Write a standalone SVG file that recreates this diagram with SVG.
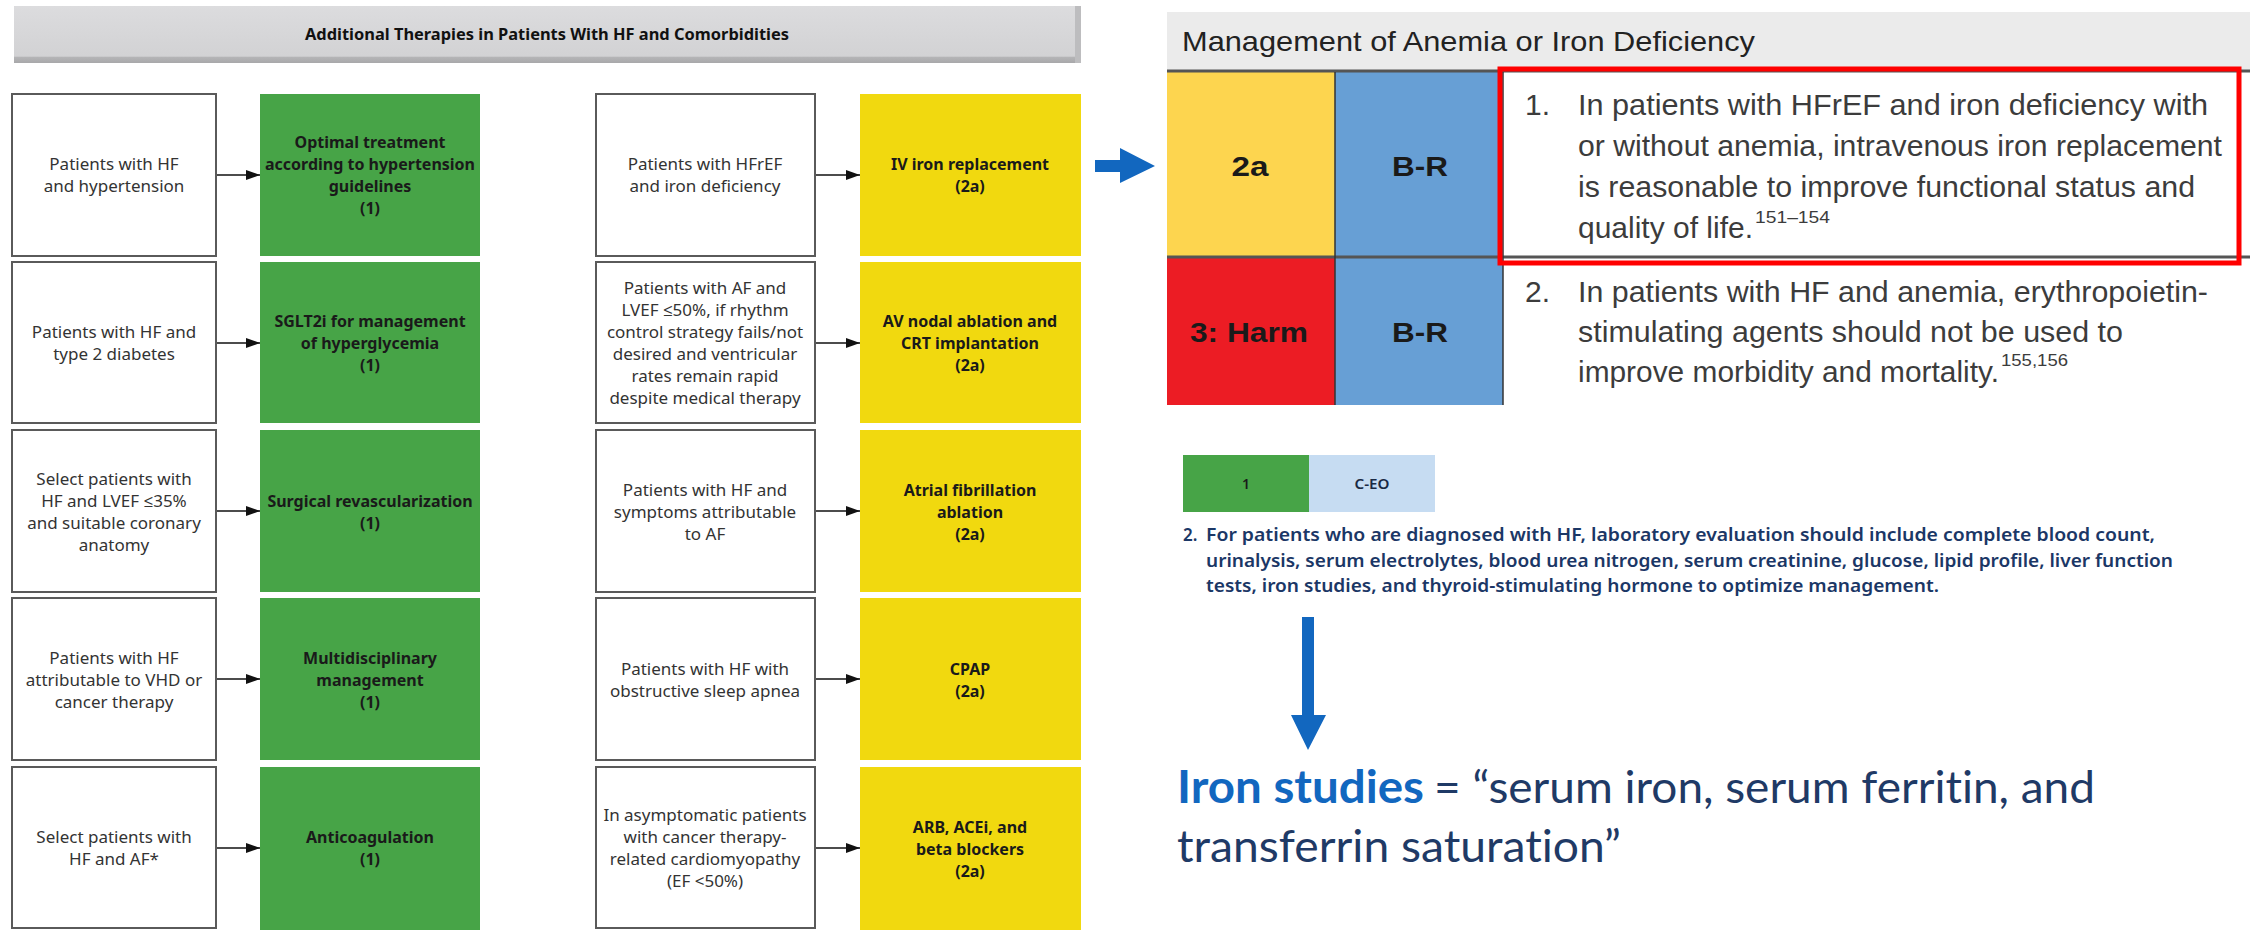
<svg xmlns="http://www.w3.org/2000/svg" width="2250" height="930" viewBox="0 0 2250 930">
<defs>
<style>
.wbox{fill:#ffffff;stroke:#5a5a5a;stroke-width:2}
.gbox{fill:#47a447}
.ybox{fill:#f1d90f}
.wt{font-family:"Noto Sans","Open Sans",sans-serif;font-size:17px;fill:#333;text-anchor:middle}
.bt{font-family:"Noto Sans","Open Sans",sans-serif;font-size:16px;font-weight:bold;fill:#1a1a1a;text-anchor:middle}
.conn{stroke:#111;stroke-width:1.6;fill:none;marker-end:url(#ah)}
.tb{font-family:"Liberation Sans",Arial,sans-serif;font-size:30px;fill:#3c3c3c}
.sup{font-family:"Liberation Sans",Arial,sans-serif;font-size:17px;fill:#3c3c3c}
.lab{font-family:"Liberation Sans",Arial,sans-serif;font-size:27px;font-weight:bold;fill:#1a1a1a;text-anchor:middle}
.para{font-family:"Noto Sans","Open Sans",sans-serif;font-size:17px;font-weight:600;fill:#1b3766}
.iron{font-family:Lato,"Noto Sans",sans-serif;font-size:45px;font-variant-ligatures:none;fill:#1f3a66}
.blue{fill:#1267bf}
</style>
<marker id="ah" viewBox="0 0 14 10" refX="14" refY="5" markerWidth="14" markerHeight="10" markerUnits="userSpaceOnUse" orient="auto"><path d="M0,0 L14,5 L0,10 z" fill="#111"/></marker>
<linearGradient id="tbar" x1="0" y1="0" x2="0" y2="1"><stop offset="0" stop-color="#dcdcde"/><stop offset="0.88" stop-color="#d2d2d4"/><stop offset="0.9" stop-color="#b4b4b6"/><stop offset="1" stop-color="#a8a8aa"/></linearGradient>
</defs>
<rect width="2250" height="930" fill="#ffffff"/>

<g id="title">
<rect x="14" y="6" width="1067" height="57" fill="url(#tbar)"/>
<rect x="1075" y="6" width="6" height="57" fill="#bdbdbf"/>
<text x="547" y="40" font-family="'Noto Sans',sans-serif" font-size="16" font-weight="bold" fill="#111" text-anchor="middle" textLength="484" lengthAdjust="spacingAndGlyphs">Additional Therapies in Patients With HF and Comorbidities</text>
</g>

<g id="connectors">
<path class="conn" d="M216,175 H260"/>
<path class="conn" d="M216,343 H260"/>
<path class="conn" d="M216,511 H260"/>
<path class="conn" d="M216,679 H260"/>
<path class="conn" d="M216,848 H260"/>
<path class="conn" d="M815,175 H860"/>
<path class="conn" d="M815,343 H860"/>
<path class="conn" d="M815,511 H860"/>
<path class="conn" d="M815,679 H860"/>
<path class="conn" d="M815,848 H860"/>
<polygon class="blue" points="1095,160 1120,160 1120,148 1155,166 1120,183 1120,172 1095,172"/>
<polygon class="blue" points="1302,617 1314,617 1314,715 1326,715 1308,750 1291,715 1302,715"/>
</g>

<g id="n-htn"><rect class="wbox" x="12" y="94" width="204" height="162"/>
<text class="wt" x="114" y="170">Patients with HF</text><text class="wt" x="114" y="192">and hypertension</text></g>
<g id="t-htn"><rect class="gbox" x="260" y="94" width="220" height="162"/>
<text class="bt" x="370" y="148">Optimal treatment</text><text class="bt" x="370" y="170">according to hypertension</text><text class="bt" x="370" y="192">guidelines</text><text class="bt" x="370" y="214">(1)</text></g>

<g id="n-dm"><rect class="wbox" x="12" y="262" width="204" height="161"/>
<text class="wt" x="114" y="338">Patients with HF and</text><text class="wt" x="114" y="360">type 2 diabetes</text></g>
<g id="t-dm"><rect class="gbox" x="260" y="262" width="220" height="161"/>
<text class="bt" x="370" y="327">SGLT2i for management</text><text class="bt" x="370" y="349">of hyperglycemia</text><text class="bt" x="370" y="371">(1)</text></g>

<g id="n-cad"><rect class="wbox" x="12" y="430" width="204" height="162"/>
<text class="wt" x="114" y="485">Select patients with</text><text class="wt" x="114" y="507">HF and LVEF ≤35%</text><text class="wt" x="114" y="529">and suitable coronary</text><text class="wt" x="114" y="551">anatomy</text></g>
<g id="t-cad"><rect class="gbox" x="260" y="430" width="220" height="162"/>
<text class="bt" x="370" y="507">Surgical revascularization</text><text class="bt" x="370" y="529">(1)</text></g>

<g id="n-vhd"><rect class="wbox" x="12" y="598" width="204" height="162"/>
<text class="wt" x="114" y="664">Patients with HF</text><text class="wt" x="114" y="686">attributable to VHD or</text><text class="wt" x="114" y="708">cancer therapy</text></g>
<g id="t-vhd"><rect class="gbox" x="260" y="598" width="220" height="162"/>
<text class="bt" x="370" y="664">Multidisciplinary</text><text class="bt" x="370" y="686">management</text><text class="bt" x="370" y="708">(1)</text></g>

<g id="n-af"><rect class="wbox" x="12" y="767" width="204" height="161"/>
<text class="wt" x="114" y="843">Select patients with</text><text class="wt" x="114" y="865">HF and AF*</text></g>
<g id="t-af"><rect class="gbox" x="260" y="767" width="220" height="163"/>
<text class="bt" x="370" y="843">Anticoagulation</text><text class="bt" x="370" y="865">(1)</text></g>

<g id="n-iron"><rect class="wbox" x="596" y="94" width="219" height="162"/>
<text class="wt" x="705" y="170">Patients with HFrEF</text><text class="wt" x="705" y="192">and iron deficiency</text></g>
<g id="t-iron"><rect class="ybox" x="860" y="94" width="221" height="162"/>
<text class="bt" x="970" y="170">IV iron replacement</text><text class="bt" x="970" y="192">(2a)</text></g>

<g id="n-avn"><rect class="wbox" x="596" y="262" width="219" height="161"/>
<text class="wt" x="705" y="294">Patients with AF and</text><text class="wt" x="705" y="316">LVEF ≤50%, if rhythm</text><text class="wt" x="705" y="338">control strategy fails/not</text><text class="wt" x="705" y="360">desired and ventricular</text><text class="wt" x="705" y="382">rates remain rapid</text><text class="wt" x="705" y="404">despite medical therapy</text></g>
<g id="t-avn"><rect class="ybox" x="860" y="262" width="221" height="161"/>
<text class="bt" x="970" y="327">AV nodal ablation and</text><text class="bt" x="970" y="349">CRT implantation</text><text class="bt" x="970" y="371">(2a)</text></g>

<g id="n-afab"><rect class="wbox" x="596" y="430" width="219" height="162"/>
<text class="wt" x="705" y="496">Patients with HF and</text><text class="wt" x="705" y="518">symptoms attributable</text><text class="wt" x="705" y="540">to AF</text></g>
<g id="t-afab"><rect class="ybox" x="860" y="430" width="221" height="162"/>
<text class="bt" x="970" y="496">Atrial fibrillation</text><text class="bt" x="970" y="518">ablation</text><text class="bt" x="970" y="540">(2a)</text></g>

<g id="n-osa"><rect class="wbox" x="596" y="598" width="219" height="162"/>
<text class="wt" x="705" y="675">Patients with HF with</text><text class="wt" x="705" y="697">obstructive sleep apnea</text></g>
<g id="t-osa"><rect class="ybox" x="860" y="598" width="221" height="162"/>
<text class="bt" x="970" y="675">CPAP</text><text class="bt" x="970" y="697">(2a)</text></g>

<g id="n-ctrcd"><rect class="wbox" x="596" y="767" width="219" height="161"/>
<text class="wt" x="705" y="821">In asymptomatic patients</text><text class="wt" x="705" y="843">with cancer therapy-</text><text class="wt" x="705" y="865">related cardiomyopathy</text><text class="wt" x="705" y="887">(EF &lt;50%)</text></g>
<g id="t-ctrcd"><rect class="ybox" x="860" y="767" width="221" height="163"/>
<text class="bt" x="970" y="833">ARB, ACEi, and</text><text class="bt" x="970" y="855">beta blockers</text><text class="bt" x="970" y="877">(2a)</text></g>

<g id="anemia-table">
<rect x="1167" y="12" width="1083" height="59" fill="#ebebeb"/>
<text x="1182" y="51" font-family="'Liberation Sans',Arial,sans-serif" font-size="28" fill="#222" textLength="573" lengthAdjust="spacingAndGlyphs">Management of Anemia or Iron Deficiency</text>
<rect x="1167" y="72" width="168" height="186" fill="#fdd54f"/>
<rect x="1335" y="72" width="168" height="186" fill="#679fd5"/>
<rect x="1167" y="258" width="168" height="147" fill="#ec1c24"/>
<rect x="1335" y="258" width="168" height="147" fill="#679fd5"/>
<line x1="1167" y1="71" x2="2250" y2="71" stroke="#555" stroke-width="3"/>
<line x1="1167" y1="257" x2="2250" y2="257" stroke="#555" stroke-width="3"/>
<line x1="1335" y1="72" x2="1335" y2="405" stroke="#333" stroke-width="1.5"/>
<line x1="1503" y1="72" x2="1503" y2="405" stroke="#333" stroke-width="1.5"/>
<text class="lab" x="1250" y="176" textLength="37" lengthAdjust="spacingAndGlyphs">2a</text>
<text class="lab" x="1420" y="176" textLength="56" lengthAdjust="spacingAndGlyphs">B-R</text>
<text class="lab" x="1249" y="342" textLength="118" lengthAdjust="spacingAndGlyphs">3: Harm</text>
<text class="lab" x="1420" y="342" textLength="56" lengthAdjust="spacingAndGlyphs">B-R</text>
<text class="tb" x="1525" y="115">1.</text>
<text class="tb" x="1578" y="115" textLength="630" lengthAdjust="spacingAndGlyphs">In patients with HFrEF and iron deficiency with</text>
<text class="tb" x="1578" y="156" textLength="644" lengthAdjust="spacingAndGlyphs">or without anemia, intravenous iron replacement</text>
<text class="tb" x="1578" y="197" textLength="617" lengthAdjust="spacingAndGlyphs">is reasonable to improve functional status and</text>
<text class="tb" x="1578" y="238" textLength="175" lengthAdjust="spacingAndGlyphs">quality of life.</text>
<text class="sup" x="1755" y="223" textLength="75" lengthAdjust="spacingAndGlyphs">151–154</text>
<text class="tb" x="1525" y="302">2.</text>
<text class="tb" x="1578" y="302" textLength="630" lengthAdjust="spacingAndGlyphs">In patients with HF and anemia, erythropoietin-</text>
<text class="tb" x="1578" y="342" textLength="545" lengthAdjust="spacingAndGlyphs">stimulating agents should not be used to</text>
<text class="tb" x="1578" y="382" textLength="421" lengthAdjust="spacingAndGlyphs">improve morbidity and mortality.</text>
<text class="sup" x="2001" y="366" textLength="67" lengthAdjust="spacingAndGlyphs">155,156</text>
<rect x="1500" y="69" width="739" height="194" fill="none" stroke="#ff0000" stroke-width="5"/>
</g>

<g id="lab-rec">
<rect x="1183" y="455" width="126" height="57" fill="#47a447"/>
<rect x="1309" y="455" width="126" height="57" fill="#c6dcf2"/>
<text x="1246" y="489" font-family="'Noto Sans',sans-serif" font-size="14" font-weight="600" fill="#1a1a1a" text-anchor="middle">1</text>
<text x="1372" y="489" font-family="'Noto Sans',sans-serif" font-size="14" font-weight="600" fill="#1a2a44" text-anchor="middle" textLength="35" lengthAdjust="spacingAndGlyphs">C-EO</text>
<text class="para" x="1183" y="541">2.</text>
<text class="para" x="1206" y="541" textLength="949" lengthAdjust="spacingAndGlyphs">For patients who are diagnosed with HF, laboratory evaluation should include complete blood count,</text>
<text class="para" x="1206" y="567" textLength="967" lengthAdjust="spacingAndGlyphs">urinalysis, serum electrolytes, blood urea nitrogen, serum creatinine, glucose, lipid profile, liver function</text>
<text class="para" x="1206" y="592" textLength="733" lengthAdjust="spacingAndGlyphs">tests, iron studies, and thyroid-stimulating hormone to optimize management.</text>
</g>

<g id="iron-studies">
<text class="iron" x="1177" y="803" font-weight="bold" fill="#1267bf" style="fill:#1267bf" textLength="247" lengthAdjust="spacingAndGlyphs">Iron studies</text>
<text class="iron" x="1434" y="803" textLength="661" lengthAdjust="spacingAndGlyphs">= “serum iron, serum ferritin, and</text>
<text class="iron" x="1177" y="862" textLength="444" lengthAdjust="spacingAndGlyphs">transferrin saturation”</text>
</g>
</svg>
